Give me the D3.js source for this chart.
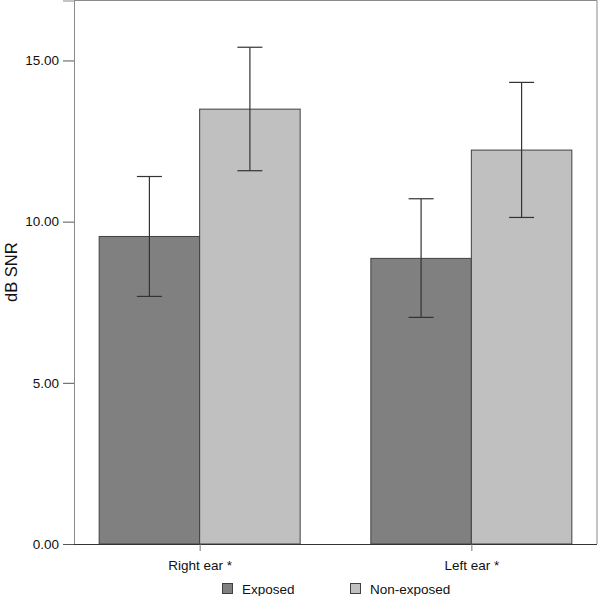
<!DOCTYPE html>
<html>
<head>
<meta charset="utf-8">
<script src="https://cdn.jsdelivr.net/npm/d3@7/dist/d3.min.js"></script>
<style>
html,body{margin:0;padding:0;background:#fff;}
svg{display:block;font-family:"Liberation Sans",Arial,Helvetica,sans-serif;}
</style>
</head>
<body>
<svg id="chart" width="600" height="596"></svg>
<script>
const categories = ["Right ear *", "Left ear *"];
const seriesNames = ["Exposed", "Non-exposed"];
const exposedMean = [9.54, 8.86];
const exposedLow = [7.68, 7.03];
const exposedHigh = [11.40, 10.71];
const nonExposedMean = [13.49, 12.22];
const nonExposedLow = [11.58, 10.13];
const nonExposedHigh = [15.41, 14.32];
const yTicks = [0, 5, 10, 15];
const colors = ["#808080", "#c0c0c0"];

const svg = d3.select("#chart");
const mLeft = 74, mRight = 597, mTop = 0.5, mBottom = 544;

const y = d3.scaleLinear().domain([0, 16.86]).range([mBottom, mTop]);
const x0 = d3.scalePoint().domain(categories).range([mLeft, mRight]).padding(0.4625);
const x1 = d3.scaleBand().domain(seriesNames).range([-100.5, 100.5]).padding(0);

const series = [
  {name: seriesNames[0], mean: exposedMean, lo: exposedLow, hi: exposedHigh, color: colors[0]},
  {name: seriesNames[1], mean: nonExposedMean, lo: nonExposedLow, hi: nonExposedHigh, color: colors[1]}
];

// frame (top & right)
svg.append("path")
  .attr("d", `M${mLeft},${mTop}H${mRight}V${mBottom}`)
  .attr("fill", "none").attr("stroke", "#8a8a8a").attr("stroke-width", 1);

// bars
series.forEach(s => {
  categories.forEach((c, i) => {
    const bx = x0(c) + x1(s.name);
    svg.append("rect")
      .attr("x", bx).attr("y", y(s.mean[i]))
      .attr("width", x1.bandwidth()).attr("height", y(0) - y(s.mean[i]))
      .attr("fill", s.color).attr("stroke", "#404040").attr("stroke-width", 1);
  });
});

// error bars
series.forEach(s => {
  categories.forEach((c, i) => {
    const cx = x0(c) + x1(s.name) + x1.bandwidth() / 2;
    const g = svg.append("g").attr("stroke", "#333").attr("stroke-width", 1.2);
    g.append("line").attr("x1", cx).attr("x2", cx).attr("y1", y(s.hi[i])).attr("y2", y(s.lo[i]));
    g.append("line").attr("x1", cx - 12.5).attr("x2", cx + 12.5).attr("y1", y(s.hi[i])).attr("y2", y(s.hi[i]));
    g.append("line").attr("x1", cx - 12.5).attr("x2", cx + 12.5).attr("y1", y(s.lo[i])).attr("y2", y(s.lo[i]));
  });
});

// y axis
const yAxis = d3.axisLeft(y).tickValues(yTicks).tickFormat(d3.format(".2f")).tickSize(11).tickPadding(4);
const gy = svg.append("g").attr("transform", `translate(${mLeft},0)`).call(yAxis);
gy.select(".domain").attr("stroke", "#8a8a8a");
gy.selectAll(".tick line").attr("stroke", "#555");
gy.selectAll(".tick text").attr("font-size", 13.5).attr("fill", "#111").attr("font-family", "Liberation Sans, Arial, sans-serif");

// x axis
const xAxis = d3.axisBottom(x0).tickSize(7).tickPadding(9);
const gx = svg.append("g").attr("transform", `translate(0,${mBottom})`).call(xAxis);
gx.select(".domain").attr("d", `M${mLeft},0.5H${mRight}`).attr("stroke", "#333");
gx.selectAll(".tick line").attr("stroke", "#777");
gx.selectAll(".tick text").attr("font-size", 13.5).attr("fill", "#111").attr("font-family", "Liberation Sans, Arial, sans-serif");

// y title
svg.append("text")
  .attr("transform", `translate(17,${(mTop + mBottom) / 2}) rotate(-90)`)
  .attr("text-anchor", "middle")
  .attr("font-size", 16.5).attr("fill", "#111")
  .text("dB SNR");

// legend
const legendX = [222, 350];
series.forEach((s, i) => {
  const g = svg.append("g").attr("transform", `translate(${legendX[i]},583)`);
  g.append("rect").attr("x", 0.5).attr("y", 0.5).attr("width", 10).attr("height", 10)
    .attr("fill", s.color).attr("stroke", "#404040").attr("stroke-width", 1);
  g.append("text").attr("x", 20).attr("y", 10.5).attr("font-size", 13.5).attr("fill", "#111").text(s.name);
});
</script>
</body>
</html>
